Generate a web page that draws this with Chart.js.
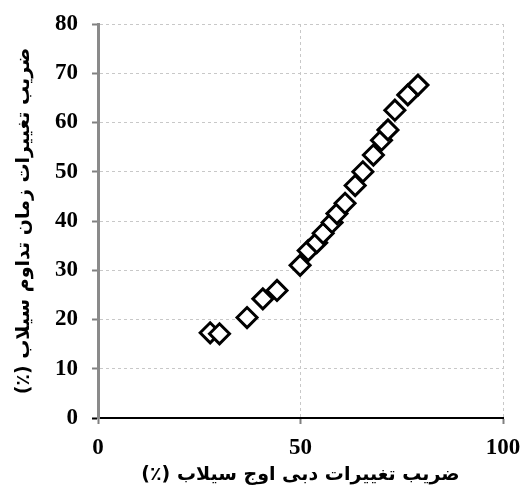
<!DOCTYPE html>
<html>
<head>
<meta charset="utf-8">
<script src="https://cdn.jsdelivr.net/npm/chart.js@4.4.1/dist/chart.umd.min.js"></script>
<style>
  html, body { margin: 0; padding: 0; background: #ffffff; }
  #wrap { width: 527px; height: 494px; }
</style>
</head>
<body>
<div id="wrap"><canvas id="c" width="527" height="494"></canvas></div>
<script>
// Peak discharge variation coefficient (%) vs. flood duration variation coefficient (%)
const peakCv = [27.7, 30.0, 36.8, 40.7, 44.2, 49.9, 51.9, 54.0, 55.6, 57.8, 59.0, 61.0, 63.5, 65.4, 68.0, 70.0, 71.6, 73.3, 76.5, 79.0];
const durationCv = [17.3, 17.1, 20.4, 24.2, 25.9, 31.0, 34.0, 35.6, 37.5, 39.7, 41.5, 43.6, 47.2, 50.0, 53.4, 56.4, 58.5, 62.5, 65.6, 67.6];
const xTicks = [0, 50, 100];
const yTicks = [0, 10, 20, 30, 40, 50, 60, 70, 80];
// trailing RLM keeps the "(٪)" on the right-to-left side of the title
const xTitle = 'ضریب تغییرات دبی اوج سیلاب (٪)\u200F';
const yTitle = 'ضریب تغییرات زمان تداوم سیلاب (٪)\u200F';

const points = peakCv.map((x, i) => ({ x: x, y: durationCv[i] }));
const tickFont = { family: 'Liberation Serif', size: 23, weight: 'bold' };
const titleFont = { family: 'DejaVu Sans', size: 19, weight: 'bold' };
// let edge tick labels overflow instead of shrinking the plot area
const noOverflow = s => { s.paddingLeft = 0; s.paddingRight = 0; s.paddingTop = 0; s.paddingBottom = 0; };

new Chart(document.getElementById('c'), {
  type: 'scatter',
  data: {
    datasets: [{
      data: points,
      pointStyle: 'rectRot',
      pointRadius: 10,
      pointHoverRadius: 10,
      borderColor: '#000000',
      backgroundColor: '#ffffff',
      borderWidth: 3
    }]
  },
  options: {
    responsive: false,
    animation: false,
    devicePixelRatio: 1,
    layout: { padding: { left: 6, right: 24, top: 24, bottom: 8 } },
    plugins: { legend: { display: false }, tooltip: { enabled: false } },
    scales: {
      x: {
        type: 'linear', min: 0, max: 100,
        afterBuildTicks: s => { s.ticks = xTicks.map(v => ({ value: v })); },
        afterFit: s => { s.height = 494 - 418 - 8; noOverflow(s); },
        grid: { color: '#c8c8c8', lineWidth: 1, tickLength: 6, tickColor: '#808080', tickWidth: 2 },
        border: { display: true, color: '#000000', width: 2, dash: [3, 3] },
        ticks: { color: '#000000', font: tickFont, padding: 10, maxRotation: 0 },
        title: { display: true, text: xTitle, color: '#000000', font: titleFont, padding: 0 }
      },
      y: {
        type: 'linear', min: 0, max: 80,
        afterBuildTicks: s => { s.ticks = yTicks.map(v => ({ value: v })); },
        afterFit: s => { s.width = 92; noOverflow(s); },
        grid: {
          color: '#c8c8c8',
          lineWidth: 1,
          tickLength: 6,
          tickColor: ctx => (ctx.tick && ctx.tick.value === 0) ? '#000000' : '#808080',
          tickWidth: 2
        },
        border: { display: true, color: '#8a8a8a', width: 3, dash: [3, 3] },
        ticks: { color: '#000000', font: tickFont, padding: 14 },
        title: { display: true, text: yTitle, color: '#000000', font: titleFont, padding: { top: 7, bottom: 0 } }
      }
    }
  }
});
</script>
</body>
</html>
